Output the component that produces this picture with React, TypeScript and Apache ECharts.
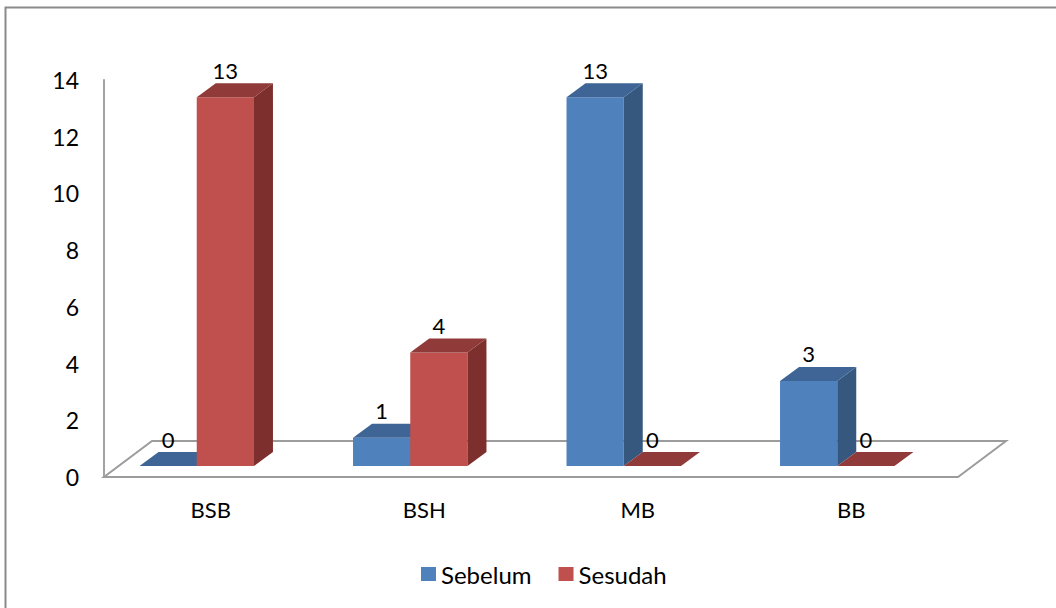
import React, { useEffect, useRef } from "react";
import * as echarts from "echarts";

const categories = ["BSB", "BSH", "MB", "BB"];
const sebelum = [0, 1, 13, 3];
const sesudah = [13, 4, 0, 0];
const yTicks = { min: 0, max: 14, interval: 2 };

const FONT = "Lato";
const palette = {
  Sebelum: { front: "#4f81bd", top: "#3e6595", side: "#36587f" },
  Sesudah: { front: "#c0504d", top: "#903b39", side: "#7c2f2d" },
};

export default function App() {
  const ref = useRef<HTMLDivElement>(null);
  useEffect(() => {
    document.body.style.margin = "0";
    const chart = echarts.init(ref.current!, null, { renderer: "svg" });

    const DX = 19, DY = -14, SHIFT_X = -14, SHIFT_Y = -11;

    const makeBar = (name: "Sebelum" | "Sesudah", values: number[], side: number) => ({
      name,
      type: "custom",
      z: 3,
      itemStyle: { color: palette[name].front },
      data: values.map((v, i) => [i, v]),
      encode: { x: 0, y: 1 },
      renderItem: (params: any, api: any) => {
        const i = api.value(0);
        const v = api.value(1);
        const base = api.coord([i, 0]);
        const top = api.coord([i, v]);
        const band = api.size([1, 0])[0];
        const barW = band * 0.268;
        const x0 = base[0] + SHIFT_X + (side === 0 ? -barW : 0);
        const x1 = x0 + barW;
        const yb = base[1] + SHIFT_Y;
        const yt = top[1] + SHIFT_Y;
        const c = palette[name];
        const children: any[] = [];
        if (v > 0) {
          children.push({ type: "rect", shape: { x: x0, y: yt, width: barW, height: yb - yt }, style: { fill: c.front } });
          children.push({
            type: "polygon",
            shape: { points: [[x1, yt], [x1 + DX, yt + DY], [x1 + DX, yb + DY], [x1, yb]] },
            style: { fill: c.side },
          });
        }
        children.push({
          type: "polygon",
          shape: { points: [[x0, yt], [x0 + DX, yt + DY], [x1 + DX, yt + DY], [x1, yt]] },
          style: { fill: c.top },
        });
        children.push({
          type: "text",
          style: {
            text: String(v),
            x: x0 + barW / 2,
            y: yt + DY - 13,
            align: "center",
            verticalAlign: "middle",
            fontFamily: FONT,
            fontSize: 22,
            fill: "#000",
          },
        });
        return { type: "group", children };
      },
    });

    const option: any = {
      animation: false,
      backgroundColor: "#fff",
      graphic: [
        {
          type: "rect",
          left: 3,
          top: 5,
          z: 0,
          shape: { width: 1100, height: 700 },
          style: { fill: "none", stroke: "#8a8a8a", lineWidth: 2 },
        },
      ],
      grid: { left: 104, right: 98, top: 80, bottom: 131 },
      legend: {
        data: ["Sebelum", "Sesudah"],
        left: 416,
        top: 557,
        icon: "rect",
        itemWidth: 15,
        itemHeight: 14,
        itemGap: 27,
        textStyle: { fontFamily: FONT, fontSize: 24, color: "#000", padding: [0, 0, 0, 0] },
      },
      xAxis: {
        type: "category",
        data: categories,
        axisLine: { show: false },
        axisTick: { show: false },
        splitLine: { show: false },
        axisLabel: { margin: 21, fontFamily: FONT, fontSize: 22, color: "#000" },
      },
      yAxis: {
        type: "value",
        min: yTicks.min,
        max: yTicks.max,
        interval: yTicks.interval,
        axisLine: { show: true, lineStyle: { color: "#a3a3a3", width: 2 } },
        axisTick: { show: false },
        splitLine: { show: false },
        axisLabel: { margin: 25, fontFamily: FONT, fontSize: 23, color: "#000" },
      },
      series: [
        {
          name: "floor",
          type: "custom",
          z: 1,
          silent: true,
          data: [[0, 0]],
          encode: { x: 0, y: 1 },
          renderItem: (params: any, api: any) => {
            const band = api.size([1, 0])[0];
            const first = api.coord([0, 0]);
            const last = api.coord([categories.length - 1, 0]);
            const xl = first[0] - band / 2;
            const xr = last[0] + band / 2;
            const y = first[1];
            const dx = 48, dy = -36;
            return {
              type: "polygon",
              shape: { points: [[xl, y], [xr, y], [xr + dx, y + dy], [xl + dx, y + dy]] },
              style: { fill: "#fff", stroke: "#9c9c9c", lineWidth: 2 },
            };
          },
        },
        makeBar("Sebelum", sebelum, 0),
        makeBar("Sesudah", sesudah, 1),
      ],
    };
    chart.setOption(option);
    return () => chart.dispose();
  }, []);
  return <div ref={ref} style={{ width: 1056, height: 608 }} />;
}
